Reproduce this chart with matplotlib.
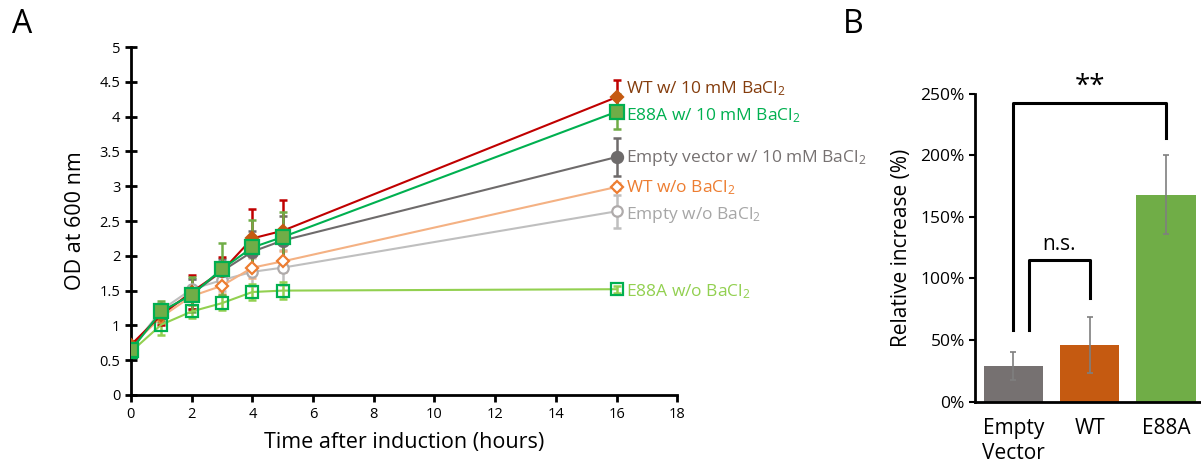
import matplotlib.pyplot as plt
from matplotlib.ticker import PercentFormatter

plt.rcParams['font.family'] = ['Open Sans', 'DejaVu Sans']
plt.rcParams['mathtext.fontset'] = 'custom'
plt.rcParams['mathtext.rm'] = 'Open Sans'
plt.rcParams['mathtext.it'] = 'Open Sans'

# growth curves
hours = [0, 1, 2, 3, 4, 5, 16]
wt_ba = [0.72, 1.15, 1.48, 1.78, 2.25, 2.36, 4.28]
wt_ba_err = [0.05, 0.15, 0.25, 0.20, 0.43, 0.44, 0.25]
e88a_ba = [0.64, 1.20, 1.44, 1.81, 2.12, 2.27, 4.07]
e88a_ba_err = [0.05, 0.15, 0.25, 0.37, 0.39, 0.36, 0.25]
empty_ba = [0.68, 1.18, 1.45, 1.78, 2.06, 2.22, 3.42]
empty_ba_err = [0.05, 0.12, 0.22, 0.18, 0.30, 0.35, 0.28]
wt_no = [0.70, 1.12, 1.42, 1.57, 1.83, 1.92, 2.99]
wt_no_err = [0.04, 0.10, 0.12, 0.12, 0.15, 0.15, 0.05]
empty_no = [0.66, 1.22, 1.52, 1.65, 1.77, 1.83, 2.64]
empty_no_err = [0.04, 0.10, 0.15, 0.15, 0.20, 0.25, 0.24]
e88a_no = [0.62, 1.01, 1.20, 1.32, 1.48, 1.50, 1.52]
e88a_no_err = [0.04, 0.15, 0.10, 0.10, 0.12, 0.12, 0.05]

# relative increase
groups = ['Empty\nVector', 'WT', 'E88A']
increase = [29, 46, 168]
increase_err = [11, 23, 32]

fig = plt.figure(figsize=(12.01, 4.74), dpi=100)
ax = fig.add_axes([0.109, 0.1667, 0.455, 0.734])
bx = fig.add_axes([0.812, 0.1525, 0.188, 0.650])

series = [
    # values, errors, line, marker face, marker edge, errbar, marker, size, z, label, label colour, label y
    (empty_no, empty_no_err, '#BFBFBF', 'white', '#AFABAB', '#BFBFBF', 'o', 7.5, 3,
     'Empty w/o BaCl$_2$', '#A6A6A6', 2.58),
    (wt_no, wt_no_err, '#F4B183', 'white', '#ED7D31', '#F4B183', 'D', 6, 4,
     'WT w/o BaCl$_2$', '#ED7D31', 2.98),
    (e88a_no, e88a_no_err, '#92D050', 'none', '#00B050', '#92D050', 's', 9, 5,
     'E88A w/o BaCl$_2$', '#92D050', 1.49),
    (empty_ba, empty_ba_err, '#6E6B6B', '#6E6B6B', '#6E6B6B', '#6E6B6B', 'o', 8, 6,
     'Empty vector w/ 10 mM BaCl$_2$', '#767171', 3.40),
    (wt_ba, wt_ba_err, '#C00000', '#C55A11', '#C55A11', '#C00000', 'D', 6, 7,
     'WT w/ 10 mM BaCl$_2$', '#843C0C', 4.40),
    (e88a_ba, e88a_ba_err, '#00B050', '#70AD47', '#00B050', '#70AD47', 's', 9.5, 8,
     'E88A w/ 10 mM BaCl$_2$', '#00B050', 4.02),
]

for vals, err, lc, fc, ec, erc, mk, ms, z, label, tc, ly in series:
    ax.errorbar(hours, vals, yerr=err, fmt='none', ecolor=erc, elinewidth=1.8,
                capsize=3, capthick=1.8, zorder=2)
    ax.plot(hours, vals, color=lc, lw=1.5, marker=mk, ms=ms, mfc=fc, mec=ec,
            mew=1.6, zorder=z)
    ax.text(16.3, ly, label, color=tc, fontsize=12.5, va='center', ha='left')

ax.set_xlim(0, 18)
ax.set_ylim(0, 5)
ax.set_xticks(range(0, 19, 2))
ax.set_yticks([0, 0.5, 1, 1.5, 2, 2.5, 3, 3.5, 4, 4.5, 5])
ax.set_yticklabels(['0', '0.5', '1', '1.5', '2', '2.5', '3', '3.5', '4', '4.5', '5'])
ax.tick_params(labelsize=10.5, width=2, length=5, direction='out')
ax.tick_params(axis='y', direction='inout', length=8)
ax.spines[['top', 'right']].set_visible(False)
ax.spines[['left', 'bottom']].set_linewidth(2)
ax.set_xlabel('Time after induction (hours)', fontsize=15.5, labelpad=7)
ax.set_ylabel('OD at 600 nm', fontsize=15.5, labelpad=10)

# bar chart
pos = range(len(groups))
bx.bar(pos, increase, width=0.78, color=['#767171', '#C55A11', '#70AD47'],
       yerr=increase_err, ecolor='#7F7F7F', error_kw=dict(lw=1.2, capsize=2.5, capthick=1.2))
bx.set_xlim(-0.5, 2.46)
bx.set_ylim(0, 250)
bx.set_yticks(range(0, 251, 50))
bx.yaxis.set_major_formatter(PercentFormatter(decimals=0))
bx.set_xticks(list(pos))
bx.set_xticklabels(groups, fontsize=15)
bx.tick_params(axis='y', labelsize=12.5, length=4, width=1.5)
bx.tick_params(axis='x', length=0, pad=12)
bx.spines[['top', 'right']].set_visible(False)
bx.spines[['left', 'bottom']].set_linewidth(2)
bx.set_ylabel('Relative increase (%)', fontsize=15, labelpad=6)

# significance brackets
bx.plot([0, 0, 2, 2], [58, 242, 242, 214], color='black', lw=2.2, clip_on=False)
bx.text(1.0, 244, '**', ha='center', va='bottom', fontsize=20, clip_on=False)
bx.plot([0.2, 0.2, 1, 1], [58, 115, 115, 84], color='black', lw=2.2, clip_on=False)
bx.text(0.6, 119, 'n.s.', ha='center', va='bottom', fontsize=15)

fig.text(0.010, 0.93, 'A', fontsize=23)
fig.text(0.702, 0.93, 'B', fontsize=23)

fig.savefig('out.png', dpi=100)
